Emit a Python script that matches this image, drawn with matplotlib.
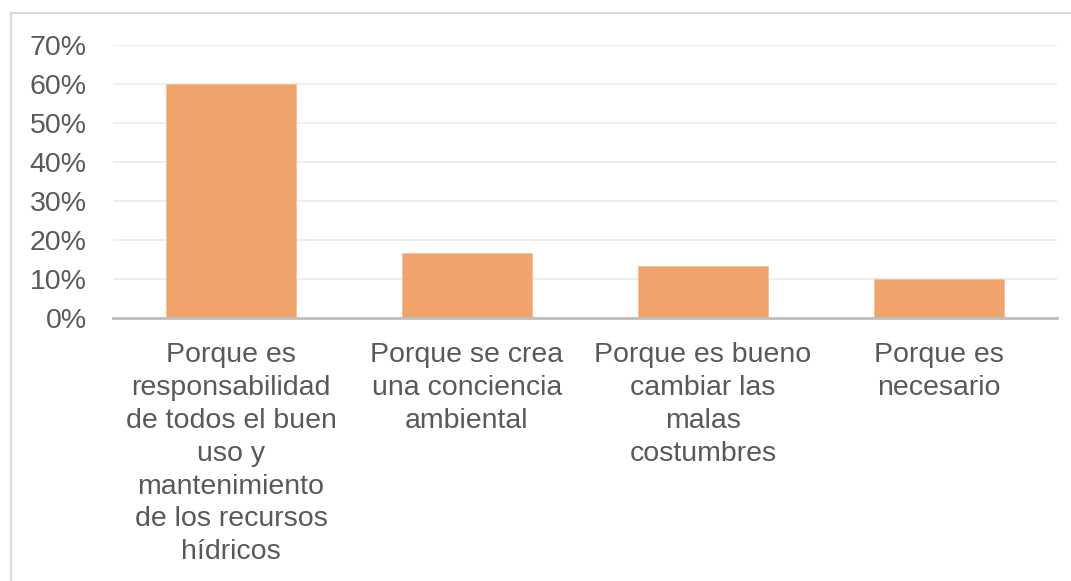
import matplotlib.pyplot as plt
from matplotlib.lines import Line2D
from matplotlib.ticker import PercentFormatter

# Data
categories = [
    "Porque es\nresponsabilidad\nde todos el buen\nuso y\nmantenimiento\nde los recursos\nhídricos",
    "Porque se crea\nuna conciencia\nambiental",
    "Porque es bueno\ncambiar las\nmalas\ncostumbres",
    "Porque es\nnecesario",
]
values = [0.60, 0.167, 0.133, 0.10]
yticks = [0, 0.1, 0.2, 0.3, 0.4, 0.5, 0.6, 0.7]

plt.rcParams['font.family'] = ['Liberation Sans', 'DejaVu Sans']
text_color = '#595959'

fig = plt.figure(figsize=(10.71, 5.81), dpi=100)
ax = fig.add_axes([113 / 1071, 1 - 318 / 581, (1057 - 113) / 1071, (318 - 45) / 581])

x = range(len(categories))
ax.bar(x, values, width=0.555, color='#F0A46C', edgecolor='#F5C09A', linewidth=0.6, zorder=2)

ax.set_xlim(-0.5, len(categories) - 0.5)
ax.set_ylim(0, 0.7)
ax.set_yticks(yticks)
ax.yaxis.set_major_formatter(PercentFormatter(1.0, decimals=0))
ax.set_xticks(list(x))
ax.set_xticklabels(categories, fontsize=20.5, color=text_color, linespacing=1.34)
ax.tick_params(axis='y', length=0, pad=19, labelsize=20.5, labelcolor=text_color)
ax.tick_params(axis='x', length=0, pad=17.5)

ax.grid(axis='y', color='#EBEBEB', linewidth=1.2, zorder=0)
for side in ['top', 'right', 'left']:
    ax.spines[side].set_visible(False)
ax.spines['bottom'].set_color('#BFBFBF')
ax.spines['bottom'].set_linewidth(2)
ax.spines['bottom'].set_zorder(3)

# chart frame (top and left edges visible in the reference)
fig.add_artist(Line2D([11 / 1071, 1.0], [1 - 13 / 581, 1 - 13 / 581], color='#D9D9D9', linewidth=1.5))
fig.add_artist(Line2D([11 / 1071, 11 / 1071], [0.0, 1 - 13 / 581], color='#D9D9D9', linewidth=1.5))

plt.savefig('out.png', dpi=100)
